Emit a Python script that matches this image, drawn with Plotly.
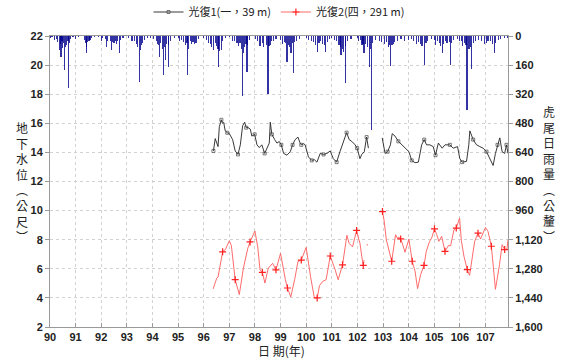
import plotly.graph_objects as go

# ---- groundwater level, well 光復1 (一, 39 m) : year (ROC), level (m) ----
w1_year = [96.38, 96.45, 96.56, 96.61, 96.69, 96.73, 96.78, 96.84, 96.92, 97.0, 97.13, 97.23, 97.34,
           97.43, 97.52, 97.6, 97.66, 97.73, 97.82, 97.88, 97.99, 98.08, 98.17, 98.27, 98.38, 98.47,
           98.56, 98.6, 98.66, 98.77, 98.86, 98.95, 99.03, 99.12, 99.25, 99.38, 99.47, 99.57, 99.68,
           99.75, 99.81, 99.9, 99.96, 100.09, 100.22, 100.32, 100.42, 100.55, 100.68, 100.81, 100.94,
           101.06, 101.19, 101.32, 101.45, 101.52, 101.58, 101.68, 101.78, 101.91, 101.99, 102.1,
           102.17, 102.27, 102.36, 102.43, None, 102.97, 103.08, 103.18, 103.29, 103.36, 103.47,
           103.6, 103.73, 103.86, 104.01, 104.12, 104.25, 104.38, 104.51, 104.61, 104.7, 104.83,
           104.96, 105.05, 105.16, 105.31, 105.42, 105.61, 105.74, 105.91, 106.0, 106.09, 106.26,
           106.35, 106.39, 106.52, 106.65, 106.78, 106.91, 107.04, 107.17, 107.3, 107.39, 107.47,
           107.56, 107.65, 107.75, 107.82, 107.88]
w1_level = [14.1, 14.95, 14.4, 15.76, 16.24, 16.0, 16.07, 15.48, 15.35, 15.29, 14.88, 14.1, 13.86,
            14.52, 15.83, 16.07, 15.7, 15.71, 15.6, 15.12, 15.24, 14.52, 14.33, 14.52, 13.93, 14.29,
            14.64, 16.07, 15.24, 14.88, 14.64, 14.75, 14.52, 13.93, 13.81, 14.05, 14.52, 14.88, 15.05,
            14.7, 14.52, 14.6, 14.52, 13.69, 13.45, 13.5, 13.33, 13.93, 13.86, 13.93, 14.1,
            13.57, 13.33, 14.05, 14.76, 15.1, 15.36, 14.88, 14.76, 14.52, 14.29, 13.57,
            13.86, 14.05, 15.05, 14.29, None, 15.0, 13.93, 14.05, 14.52, 15.29, 15.12,
            14.76, 14.52, 14.29, 14.05, 13.45, 13.29, 13.33, 14.52, 14.88, 14.52, 14.52,
            14.4, 13.81, 14.64, 14.29, 14.52, 14.52, 14.29, 14.4, 13.57, 13.33, 13.38,
            14.52, 15.48, 14.88, 14.52, 14.4, 14.29, 14.05, 13.57, 13.1, 13.93, 14.52,
            15.0, 14.05, 13.93, 14.52, 13.93]

# ---- groundwater level, well 光復2 (四, 291 m) ----
w2_year = [96.37, 96.51, 96.56, 96.74, 96.85, 97.0, 97.08, 97.23, 97.39, 97.55, 97.72, 97.81, 98.0,
           98.11, 98.2, 98.29, 98.39, 98.52, 98.69, 98.82, 99.0, 99.1, 99.19, 99.27, 99.4, 99.55,
           99.68, 99.81, 100.0, 100.17, 100.32, 100.43, 100.52, 100.65, 100.78, 100.94, 101.0,
           101.12, 101.25, 101.42, 101.59, 101.68, 101.81, 101.97, 102.06, 102.1, 102.17, 102.23,
           102.26, None, 102.38, 102.40, None, 102.98, 103.04, 103.13, 103.23, 103.34, 103.49,
           103.56, 103.62, 103.69, 103.75, 103.86, 104.01, 104.14, 104.25, 104.35, 104.47, 104.6,
           104.69, 104.82, 104.9, 105.01, 105.1, 105.18, 105.29, 105.42, 105.55, 105.64, 105.77,
           105.86, 105.99, 106.06, 106.16, 106.29, 106.38, 106.48, 106.58, 106.71, 106.81, 107.0,
           107.1, 107.23, 107.39, 107.55, 107.65, 107.75, 107.84, 107.88]
w2_level = [4.62, 5.36, 5.43, 7.17, 7.33, 7.92, 7.6, 5.25, 4.23, 6.04, 7.4, 7.85, 8.6,
            7.5, 5.93, 5.75, 5.02, 6.04, 6.38, 5.93, 7.06, 6.04, 5.25, 4.68, 4.07, 5.25,
            6.5, 6.6, 7.47, 5.48, 4.0, 4.0, 4.84, 5.14, 5.25, 6.88, 6.6,
            6.0, 5.25, 6.27, 8.3, 7.74, 7.51, 8.64, 8.0, 7.77, 6.86, 6.23,
            6.6, None, 7.7, 7.6, None, 9.93, 9.36, 8.0, 7.32, 6.52, 8.34,
            8.11, 8.18, 8.05, 7.77, 7.14, 8.05, 6.52, 5.84, 4.64, 5.61, 6.23,
            7.2, 7.89, 8.11, 8.75, 8.34, 7.89, 8.23, 7.2, 7.59, 7.59, 8.68,
            8.8, 9.48, 7.93, 6.86, 5.95, 5.55, 6.86, 7.89, 8.45, 8.05, 8.84,
            8.57, 7.55, 4.59, 6.3, 7.66, 7.32, 7.36, 8.0]

# ---- daily rainfall at 虎尾 (mm) ----
rain_year = [
    90.02, 90.08, 90.16, 90.25, 90.30, 90.37, 90.40, 90.43, 90.47, 90.50, 90.54, 90.58, 90.62, 90.66,
    90.70, 90.72, 90.75, 90.80, 90.90,
    91.00, 91.10, 91.35, 91.39, 91.41, 91.44, 91.47, 91.52, 91.56, 91.62, 91.75, 91.90,
    92.00, 92.05, 92.15, 92.22, 92.26, 92.35, 92.41, 92.45, 92.50, 92.55, 92.60, 92.64, 92.71, 92.75, 92.85,
    93.05, 93.20, 93.30, 93.38, 93.42, 93.49, 93.52, 93.56, 93.62, 93.68, 93.80, 93.92,
    94.03, 94.15, 94.20, 94.25, 94.29, 94.33, 94.38, 94.42, 94.46, 94.52, 94.56, 94.61, 94.64, 94.70, 94.85,
    95.00, 95.05, 95.12, 95.20, 95.30, 95.35, 95.38, 95.42, 95.47, 95.52, 95.58, 95.64, 95.70, 95.80,
    96.00, 96.10, 96.18, 96.25, 96.32, 96.38, 96.45, 96.50, 96.56, 96.59, 96.62, 96.68, 96.72, 96.85,
    97.00, 97.12, 97.20, 97.30, 97.36, 97.42, 97.46, 97.51, 97.54, 97.60, 97.65, 97.69, 97.72, 97.80,
    98.02, 98.10, 98.20, 98.28, 98.35, 98.45, 98.51, 98.55, 98.60, 98.65, 98.72, 98.82,
    99.00, 99.08, 99.15, 99.20, 99.25, 99.30, 99.34, 99.41, 99.47, 99.50, 99.55, 99.62, 99.75,
    100.00, 100.10, 100.20, 100.30, 100.38, 100.45, 100.50, 100.55, 100.65, 100.72, 100.77, 100.82, 100.90,
    101.00, 101.10, 101.20, 101.28, 101.33, 101.36, 101.42, 101.46, 101.52, 101.55, 101.62, 101.75,
    102.00, 102.05, 102.12, 102.18, 102.22, 102.26, 102.32, 102.40, 102.46, 102.50, 102.54, 102.60,
    102.70, 102.85,
    102.95, 103.05, 103.12, 103.20, 103.25, 103.30, 103.35, 103.40, 103.46, 103.55, 103.70, 103.85,
    104.00, 104.10, 104.20, 104.30, 104.40, 104.45, 104.50, 104.55, 104.63, 104.68, 104.75, 104.90,
    105.00, 105.06, 105.12, 105.20, 105.25, 105.31, 105.36, 105.45, 105.50, 105.58, 105.63, 105.67,
    105.75, 105.90,
    105.98, 106.06, 106.12, 106.18, 106.24, 106.28, 106.36, 106.42, 106.47, 106.52, 106.60, 106.72, 106.85,
    106.95, 107.05, 107.10, 107.20, 107.28, 107.36, 107.40, 107.50, 107.60, 107.75, 107.85,
]
rain_mm = [
    12, 8, 22, 15, 35, 77, 45, 113, 30, 68, 40, 187, 60, 50,
    25, 288, 40, 15, 8,
    18, 6, 20, 40, 95, 60, 35, 30, 20, 12, 8, 6,
    25, 12, 18, 59, 25, 30, 77, 35, 40, 25, 45, 30, 95, 20, 10,
    10, 25, 30, 45, 60, 251, 75, 50, 40, 20, 10, 12,
    15, 30, 45, 50, 113, 40, 70, 214, 60, 132, 45, 168, 50, 25, 10,
    12, 30, 20, 35, 50, 40, 214, 70, 30, 45, 35, 45, 40, 15,
    10, 20, 40, 45, 60, 75, 40, 55, 70, 168, 80, 75, 30, 10,
    8, 30, 25, 40, 55, 40, 70, 330, 95, 60, 45, 196, 50, 20,
    15, 30, 55, 40, 60, 50, 319, 55, 50, 30, 25, 15,
    20, 45, 35, 40, 141, 50, 60, 95, 40, 205, 35, 30, 15,
    10, 20, 30, 35, 50, 86, 40, 30, 45, 50, 86, 35, 15,
    12, 20, 30, 50, 60, 105, 70, 90, 260, 55, 30, 15,
    10, 25, 20, 50, 45, 95, 45, 60, 168, 70, 517, 40,
    20, 30,
    35, 45, 35, 60, 50, 165, 50, 45, 35, 25, 15, 30,
    20, 15, 30, 45, 35, 45, 55, 55, 160, 40, 25, 15,
    20, 50, 30, 40, 55, 95, 45, 30, 40, 35, 160, 40,
    20, 15,
    30, 25, 55, 40, 50, 407, 70, 60, 183, 40, 25, 20, 30,
    45, 40, 25, 30, 45, 95, 40, 20, 15, 10, 12,
]

year_ticks = list(range(90, 108))
level_ticks = list(range(2, 23, 2))
rain_ticks = list(range(0, 1601, 160))

CJK = "Noto Sans CJK TC"
TICK_FONT = dict(family="Liberation Sans, Arial", size=11, color="#222", weight="bold")
GRID = "#d2d2d2"
AXIS = "#9a9a9a"

fig = go.Figure()

fig.add_trace(go.Bar(
    x=rain_year, y=rain_mm, yaxis="y2", width=0.045,
    marker=dict(color="rgba(0,0,140,0.8)", line=dict(width=0)),
    showlegend=False, hoverinfo="skip",
))

fig.add_trace(go.Scatter(
    x=w1_year, y=w1_level, mode="lines+markers", name="光復1(一，39 m)",
    line=dict(color="#222", width=0.9),
    marker=dict(symbol="square-open", size=3, color="#444", line=dict(width=0.7), maxdisplayed=30),
    connectgaps=False,
))

fig.add_trace(go.Scatter(
    x=w2_year, y=w2_level, mode="lines+markers", name="光復2(四，291 m)",
    line=dict(color="#ff5a5a", width=0.9),
    marker=dict(symbol="cross-thin", size=5, color="#ff2020",
                line=dict(width=1.2, color="#ff2020"), maxdisplayed=30),
    connectgaps=False,
))

fig.update_layout(
    width=562, height=359,
    margin=dict(l=50, r=54, t=36, b=32, autoexpand=False),
    paper_bgcolor="white", plot_bgcolor="white",
    bargap=0,
    font=dict(family=CJK, color="#222"),
    legend=dict(orientation="h", x=0.5, xanchor="center",
                y=1 + 24 / 291, yanchor="middle",
                font=dict(family=CJK, size=11, color="#222"), itemwidth=30,
                bgcolor="rgba(0,0,0,0)", tracegroupgap=0),
    xaxis=dict(range=[90, 107.88], tickvals=year_ticks, ticks="inside", ticklen=4,
               tickcolor=AXIS, showline=True, linecolor=AXIS, mirror=True,
               showgrid=True, gridcolor=GRID, griddash="dot", gridwidth=1,
               zeroline=False, tickfont=TICK_FONT),
    yaxis=dict(range=[2, 22], tickvals=level_ticks, ticks="outside", ticklen=4,
               tickcolor=AXIS, showline=True, linecolor=AXIS,
               showgrid=True, gridcolor=GRID, griddash="dot", gridwidth=1,
               zeroline=False, tickfont=TICK_FONT),
    yaxis2=dict(overlaying="y", side="right", range=[1600, 0], tickvals=rain_ticks,
                tickformat=",", ticks="outside", ticklen=4, tickcolor=AXIS,
                showline=True, linecolor=AXIS, showgrid=False, zeroline=False,
                tickfont=TICK_FONT),
)

# axis titles, written with stacked characters
fig.add_annotation(text="<br>".join("地下水位︵公尺︶"), xref="paper", yref="paper",
                   x=-0.061, y=0.5, xanchor="center", yanchor="middle", showarrow=False,
                   font=dict(family=CJK, size=12, color="#222"))
fig.add_annotation(text="<br>".join("虎尾日雨量︵公釐︶"), xref="paper", yref="paper",
                   x=1.089, y=0.525, xanchor="center", yanchor="middle", showarrow=False,
                   font=dict(family=CJK, size=12, color="#222"))
fig.add_annotation(text="日 期(年)", xref="paper", yref="paper",
                   x=0.505, y=-23 / 291, xanchor="center", yanchor="middle", showarrow=False,
                   font=dict(family=CJK, size=12, color="#222"))

fig.write_html("out.html")
